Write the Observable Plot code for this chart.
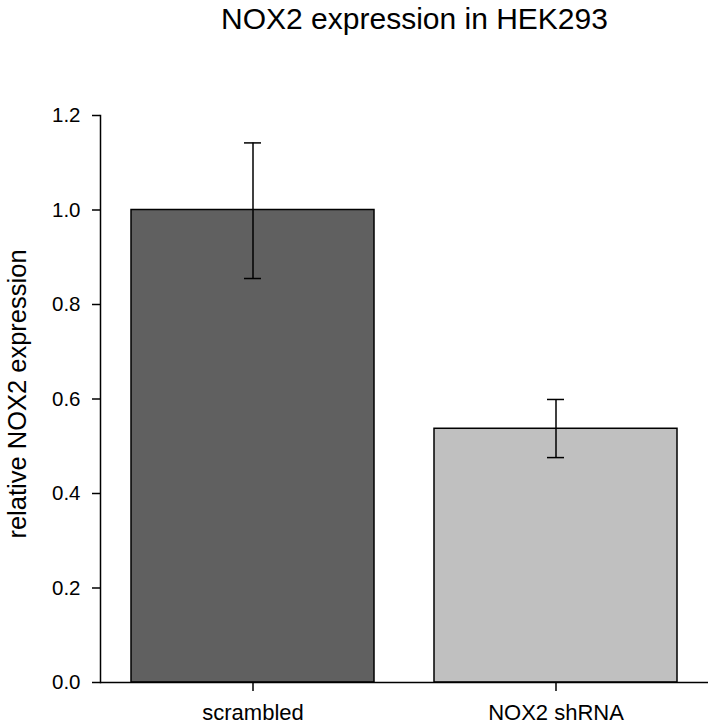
<!DOCTYPE html>
<html>
<head>
<meta charset="utf-8">
<script src="https://cdn.jsdelivr.net/npm/d3@7"></script>
<script src="https://cdn.jsdelivr.net/npm/@observablehq/plot@0.6"></script>
<style>
  html, body { margin: 0; padding: 0; background: white; }
</style>
</head>
<body>
<div id="chart"></div>
<script>
const titleText = "NOX2 expression in HEK293";
const yLabelText = "relative NOX2 expression";
const groups = ["scrambled", "NOX2 shRNA"];
const means = [1.0, 0.537];
const errLow = [0.855, 0.476];
const errHigh = [1.142, 0.599];
const yTicks = [0, 0.2, 0.4, 0.6, 0.8, 1.0, 1.2];

const data = groups.map((g, i) => ({group: g, mean: means[i], lo: errLow[i], hi: errHigh[i]}));

const plot = Plot.plot({
  width: 709,
  height: 727,
  marginTop: 115,
  marginBottom: 45,
  marginLeft: 100,
  marginRight: 1,
  style: {fontFamily: "'Liberation Sans', Arial, sans-serif", fontSize: "20px", color: "black", background: "white"},
  x: {domain: groups, paddingInner: 0.197, paddingOuter: 0.099, align: 0.5, label: null},
  y: {domain: [0, 1.2], label: null},
  color: {domain: groups, range: ["#606060", "#c0c0c0"]},
  marks: [
    Plot.barY(data, {x: "group", y: "mean", fill: "group", stroke: "black", strokeWidth: 1.5}),
    Plot.ruleX(data, {x: "group", y1: "lo", y2: "hi", stroke: "black", strokeWidth: 1.5}),
    Plot.tickY(data, {x: "group", y: "hi", insetLeft: 113, insetRight: 113, stroke: "black", strokeWidth: 1.5}),
    Plot.tickY(data, {x: "group", y: "lo", insetLeft: 113, insetRight: 113, stroke: "black", strokeWidth: 1.5}),
    Plot.frame({anchor: "left", stroke: "black", strokeWidth: 1.5}),
    Plot.ruleY([0], {stroke: "black", strokeWidth: 1.5}),
    Plot.axisY({ticks: yTicks, tickFormat: d3.format(".1f"), tickSize: 8, tickPadding: 12, fontSize: 20.5, label: null, strokeWidth: 1.5}),
    Plot.axisX({tickSize: 9, tickPadding: 13, fontSize: 22, label: null, strokeWidth: 1.5}),
    Plot.text([titleText], {frameAnchor: "top", dx: 10, dy: -87, lineAnchor: "bottom", fontSize: 30, fill: "black"}),
    Plot.text([yLabelText], {frameAnchor: "left", dx: -83, dy: -5, rotate: -90, textAnchor: "middle", lineAnchor: "middle", fontSize: 25.5, fill: "black"})
  ]
});
document.getElementById("chart").appendChild(plot);
</script>
</body>
</html>
